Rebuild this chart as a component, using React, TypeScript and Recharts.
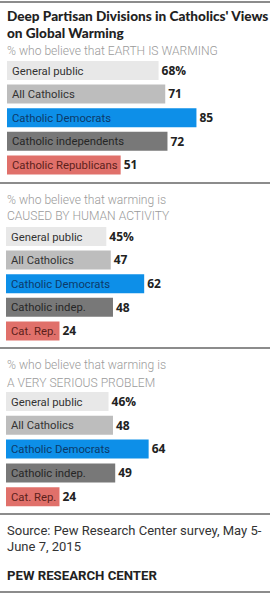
import React from 'react';
import { BarChart, Bar, XAxis, YAxis, Cell, LabelList } from 'recharts';

const groupsLong = ['General public', 'All Catholics', 'Catholic Democrats', 'Catholic independents', 'Catholic Republicans'];
const groupsShort = ['General public', 'All Catholics', 'Catholic Democrats', 'Catholic indep.', 'Cat. Rep.'];
const earthWarming = [68, 71, 85, 72, 51];
const humanActivity = [45, 47, 62, 48, 24];
const verySerious = [46, 48, 64, 49, 24];

const barColors = ['#e8e8e8', '#bdbdbd', '#0d8fe8', '#787878', '#e0706a'];
const textColors = ['#333333', '#333333', '#0c3a6a', '#262626', '#5c1f1b'];

const FONT = 'Roboto, "Open Sans", sans-serif';

function Panel({ names, values, top, left, height }: { names: string[]; values: number[]; top: number; left: number; height: number }) {
  const data = names.map((name, i) => ({ name, value: values[i] }));

  const nameLabel = (props: any) => {
    const { x, y, height: h, index } = props;
    return (
      <text x={x + 5} y={y + h / 2} dy="0.36em" fill={textColors[index]} fontSize={11.3} fontFamily={FONT}>
        {names[index]}
      </text>
    );
  };

  const valueLabel = (props: any) => {
    const { x, y, width, height: h, index } = props;
    return (
      <text x={x + width + 3} y={y + h / 2} dy="0.36em" fill="#222" fontSize={12} fontWeight={700} fontFamily='"Open Sans", sans-serif'>
        {values[index]}{index === 0 ? '%' : ''}
      </text>
    );
  };

  return (
    <div style={{ position: 'absolute', top, left }}>
      <BarChart width={263} height={height} data={data} layout="vertical" margin={{ top: 0, right: 0, bottom: 0, left: 0 }}>
        <XAxis type="number" domain={[0, 118]} hide />
        <YAxis type="category" dataKey="name" hide />
        <Bar dataKey="value" barSize={19} isAnimationActive={false}>
          {data.map((d, i) => (
            <Cell key={d.name} fill={barColors[i]} />
          ))}
          <LabelList dataKey="name" content={nameLabel} />
          <LabelList dataKey="value" content={valueLabel} />
        </Bar>
      </BarChart>
    </div>
  );
}

const Rule = ({ y }: { y: number }) => (
  <div style={{ position: 'absolute', left: 0, top: y, width: 270, height: 2, background: '#8c8c8c' }} />
);

const sub: React.CSSProperties = {
  position: 'absolute',
  left: 7,
  fontFamily: FONT,
  fontWeight: 300,
  fontSize: 12.1,
  color: '#9a9a9a',
  whiteSpace: 'nowrap',
};

export default function App() {
  return (
    <div style={{ position: 'absolute', left: 0, top: 0, width: 270, height: 600, background: '#fff', overflow: 'hidden' }}>
      <Rule y={1} />
      <div style={{ position: 'absolute', left: 7, top: 7.5, whiteSpace: 'nowrap', fontFamily: 'Lato, sans-serif', fontWeight: 900, fontSize: 13.6, lineHeight: '17px', color: '#222' }}>
        Deep Partisan Divisions in Catholics' Views<br />on Global Warming
      </div>
      <div style={{ ...sub, top: 42.5, lineHeight: '17px' }}>% who believe that EARTH IS WARMING</div>
      <Panel names={groupsLong} values={earthWarming} top={58.5} left={7} height={118} />

      <Rule y={182} />
      <div style={{ ...sub, top: 192, lineHeight: '16px' }}>
        % who believe that warming is<br />CAUSED BY HUMAN ACTIVITY
      </div>
      <Panel names={groupsShort} values={humanActivity} top={224.5} left={6} height={118} />

      <Rule y={347} />
      <div style={{ ...sub, top: 357, lineHeight: '17.5px' }}>
        % who believe that warming is<br />A VERY SERIOUS PROBLEM
      </div>
      <Panel names={groupsShort} values={verySerious} top={389.5} left={6} height={119} />

      <Rule y={513} />
      <div style={{ position: 'absolute', left: 7, top: 522.5, width: 262, fontFamily: FONT, fontSize: 13, lineHeight: '16.5px', color: '#333' }}>
        Source: Pew Research Center survey, May 5-June 7, 2015
      </div>
      <div style={{ position: 'absolute', left: 7, top: 568, fontFamily: FONT, fontWeight: 700, fontSize: 13.2, lineHeight: '16px', color: '#222' }}>
        PEW RESEARCH CENTER
      </div>
      <Rule y={591} />
    </div>
  );
}
